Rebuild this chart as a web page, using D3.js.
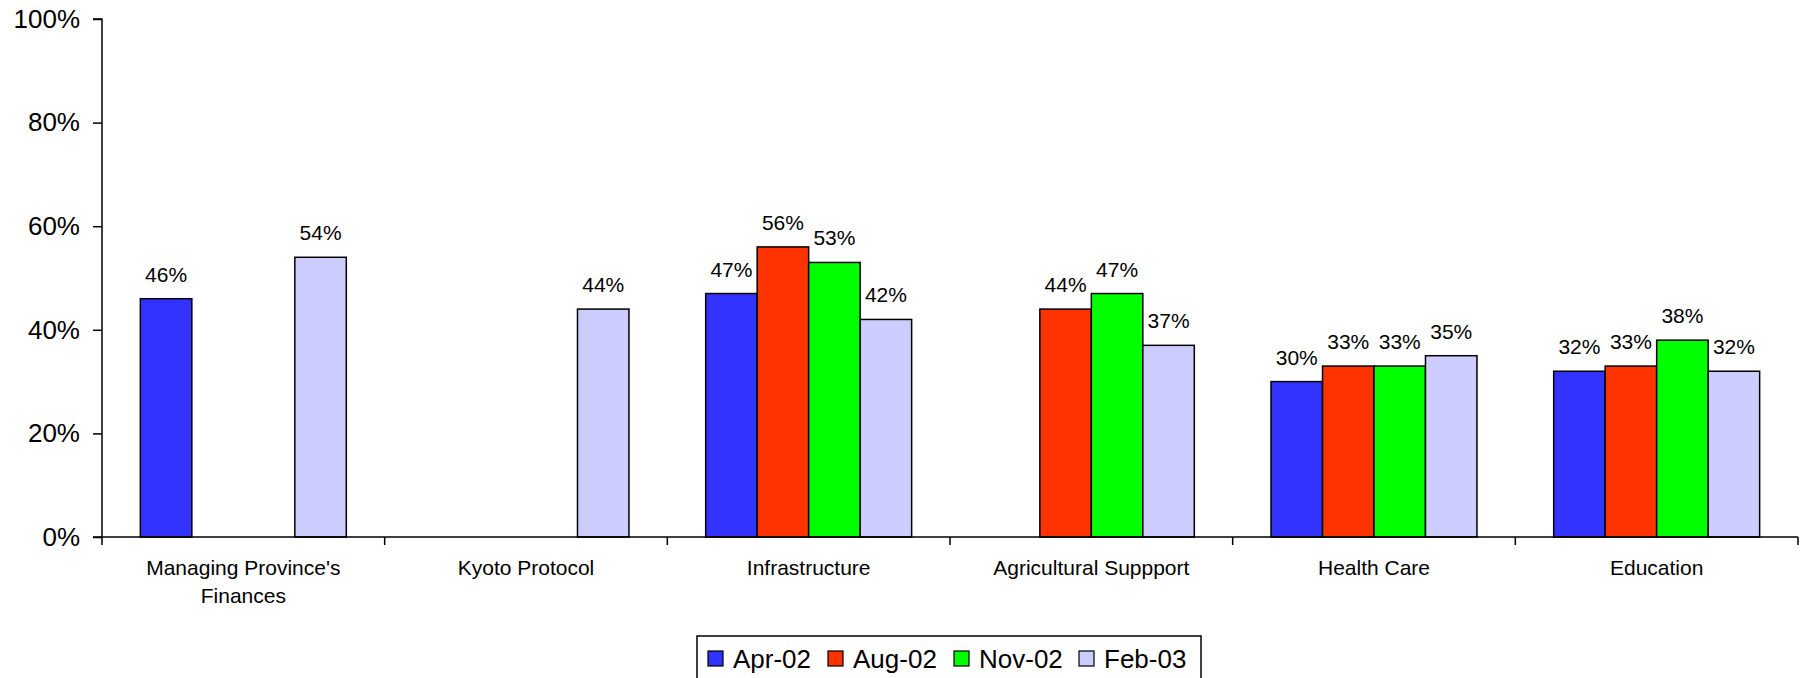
<!DOCTYPE html>
<html>
<head>
<meta charset="utf-8">
<script src="https://cdn.jsdelivr.net/npm/d3@7"></script>
<style>
  html, body { margin: 0; padding: 0; background: #fff; }
  svg { display: block; font-family: Arial, "Liberation Sans", sans-serif; }
</style>
</head>
<body>
<svg id="chart" width="1803" height="678"></svg>
<script>
const categories = ["Managing Province's Finances", "Kyoto Protocol", "Infrastructure", "Agricultural Suppport", "Health Care", "Education"];
const categoryLines = [["Managing Province's", "Finances"], ["Kyoto Protocol"], ["Infrastructure"], ["Agricultural Suppport"], ["Health Care"], ["Education"]];
const seriesNames = ["Apr-02", "Aug-02", "Nov-02", "Feb-03"];
const seriesColors = ["#3333FF", "#FF3300", "#00FF00", "#CCCCFF"];
const apr02 = [46, null, 47, null, 30, 32];
const aug02 = [null, null, 56, 44, 33, 33];
const nov02 = [null, null, 53, 47, 33, 38];
const feb03 = [54, 44, 42, 37, 35, 32];
const yTicks = [0, 20, 40, 60, 80, 100];

const seriesValues = [apr02, aug02, nov02, feb03];

(function () {
const svg = d3.select("#chart");
const mLeft = 102, mRight = 1798, mTop = 19, mBottom = 537;

const x = d3.scaleBand().domain(categories).range([mLeft, mRight]).paddingInner(0).paddingOuter(0);
const xs = d3.scaleBand().domain(seriesNames).range([0, x.bandwidth()]).paddingInner(0).paddingOuter(0.745);
const y = d3.scaleLinear().domain([0, 100]).range([mBottom, mTop]);

// Bars
seriesNames.forEach((s, si) => {
  const data = categories.map((c, ci) => ({ c, v: seriesValues[si][ci] })).filter(d => d.v !== null);
  const g = svg.append("g");
  g.selectAll("rect").data(data).enter().append("rect")
    .attr("x", d => x(d.c) + xs(s))
    .attr("y", d => y(d.v))
    .attr("width", xs.bandwidth())
    .attr("height", d => y(0) - y(d.v))
    .attr("fill", seriesColors[si])
    .attr("stroke", "#000")
    .attr("stroke-width", 1.5);
  g.selectAll("text").data(data).enter().append("text")
    .attr("x", d => x(d.c) + xs(s) + xs.bandwidth() / 2)
    .attr("y", d => y(d.v) - 17)
    .attr("text-anchor", "middle")
    .attr("font-size", 21)
    .attr("fill", "#000")
    .text(d => d.v + "%");
});

// Y axis
const yAxis = d3.axisLeft(y).tickValues(yTicks).tickFormat(d => d + "%").tickSize(9).tickPadding(13);
const yg = svg.append("g").attr("transform", `translate(${mLeft},0)`).call(yAxis);
yg.select(".domain").attr("stroke", "#000").attr("stroke-width", 1.5).attr("d", `M-9,${mTop}H0V${mBottom}H-9`);
yg.selectAll(".tick line").attr("stroke", "#000").attr("stroke-width", 1.5);
yg.selectAll(".tick text").attr("font-size", 26).attr("fill", "#000").attr("font-family", "Arial, 'Liberation Sans', sans-serif");

// X axis baseline + ticks at category boundaries
const xBoundaries = categories.map(c => x(c)).concat([mRight]);
svg.append("line").attr("x1", mLeft).attr("x2", mRight).attr("y1", mBottom).attr("y2", mBottom)
  .attr("stroke", "#000").attr("stroke-width", 1.5);
svg.append("g").selectAll("line").data(xBoundaries).enter().append("line")
  .attr("x1", d => d).attr("x2", d => d).attr("y1", mBottom).attr("y2", mBottom + 8)
  .attr("stroke", "#000").attr("stroke-width", 1.5);

// Category labels
const cl = svg.append("g");
categories.forEach((c, ci) => {
  const cx = x(c) + x.bandwidth() / 2;
  const t = cl.append("text")
    .attr("x", cx)
    .attr("y", 575)
    .attr("text-anchor", "middle")
    .attr("font-size", 21)
    .attr("fill", "#000");
  categoryLines[ci].forEach((line, li) => {
    t.append("tspan").attr("x", cx).attr("dy", li === 0 ? 0 : 28).text(line);
  });
});

// Legend
const legend = svg.append("g");
legend.append("rect").attr("x", 697).attr("y", 636).attr("width", 504).attr("height", 60)
  .attr("fill", "#fff").attr("stroke", "#000").attr("stroke-width", 1.5);
const legendX = [708, 828, 954, 1079];
seriesNames.forEach((s, si) => {
  legend.append("rect").attr("x", legendX[si]).attr("y", 651).attr("width", 15).attr("height", 15)
    .attr("fill", seriesColors[si]).attr("stroke", "#000").attr("stroke-width", 1.2);
  legend.append("text").attr("x", legendX[si] + 25).attr("y", 668)
    .attr("font-size", 26).attr("fill", "#000").text(s);
});
})();
</script>
</body>
</html>
